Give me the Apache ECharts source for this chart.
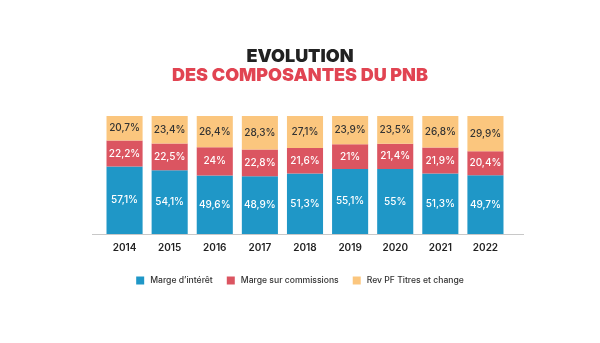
<!DOCTYPE html>
<html>
<head>
<meta charset="utf-8">
<script src="https://cdn.jsdelivr.net/npm/echarts@6/dist/echarts.min.js"></script>
<style>
  html, body { margin: 0; padding: 0; background: #ffffff; }
  #chart { width: 600px; height: 343px; }
</style>
</head>
<body>
<div id="chart"></div>
<script>
// Years shown along the bottom
var years = ['2014', '2015', '2016', '2017', '2018', '2019', '2020', '2021', '2022'];

// Share of each component in the PNB (%)
var margeInteret = [57.1, 54.1, 49.6, 48.9, 51.3, 55.1, 55, 51.3, 49.7];
var margeCommissions = [22.2, 22.5, 24, 22.8, 21.6, 21, 21.4, 21.9, 20.4];
var revTitresChange = [20.7, 23.4, 26.4, 28.3, 27.1, 23.9, 23.5, 26.8, 29.9];

var seriesNames = ['Marge d\u2019intérêt', 'Marge sur commissions', 'Rev PF Titres et change'];
var colors = ['#1f97c7', '#db5561', '#fbc67e'];

function fmt(v) {
  return String(v).replace('.', ',') + '%';
}

function makeSeries(name, data, color, labelColor) {
  return {
    name: name,
    type: 'bar',
    stack: 'pnb',
    data: data,
    barCategoryGap: '20%',
    itemStyle: { color: color },
    label: {
      show: true,
      position: 'inside',
      color: labelColor,
      fontFamily: 'Inter',
      fontSize: 10,
      fontWeight: 500,
      formatter: function (p) { return fmt(p.value); }
    }
  };
}

var chart = echarts.init(document.getElementById('chart'));
chart.setOption({
  backgroundColor: '#ffffff',
  animation: false,
  title: [
    {
      text: 'EVOLUTION',
      left: 'center',
      top: 43,
      textStyle: { fontFamily: 'Inter', fontWeight: 900, fontSize: 18, color: '#222222' }
    },
    {
      text: 'DES COMPOSANTES DU PNB',
      left: 'center',
      top: 62,
      textStyle: { fontFamily: 'Inter', fontWeight: 900, fontSize: 18, color: '#e14452' }
    }
  ],
  legend: {
    top: 271,
    left: 'center',
    itemWidth: 8,
    itemHeight: 8,
    itemGap: 14,
    icon: 'rect',
    textStyle: { fontFamily: 'Inter', fontSize: 8.6, fontWeight: 500, color: '#333333', padding: [0, 0, 0, 1] },
    data: seriesNames
  },
  grid: { left: 102, right: 92, top: 116, bottom: 109 },
  xAxis: {
    type: 'category',
    data: years,
    axisLine: { show: false },
    axisTick: { show: false },
    axisLabel: {
      margin: 9,
      fontFamily: 'Inter',
      fontSize: 10,
      fontWeight: 600,
      color: '#222222'
    }
  },
  yAxis: {
    type: 'value',
    min: 0,
    max: 100,
    show: false,
    splitLine: { show: false }
  },
  graphic: [
    {
      type: 'line',
      shape: { x1: 92, y1: 234.5, x2: 524, y2: 234.5 },
      style: { stroke: '#c8c8c8', lineWidth: 1.2 },
      z: 10
    }
  ],
  series: [
    makeSeries(seriesNames[0], margeInteret, colors[0], '#ffffff'),
    makeSeries(seriesNames[1], margeCommissions, colors[1], '#ffffff'),
    makeSeries(seriesNames[2], revTitresChange, colors[2], '#333333')
  ]
});
</script>
</body>
</html>
